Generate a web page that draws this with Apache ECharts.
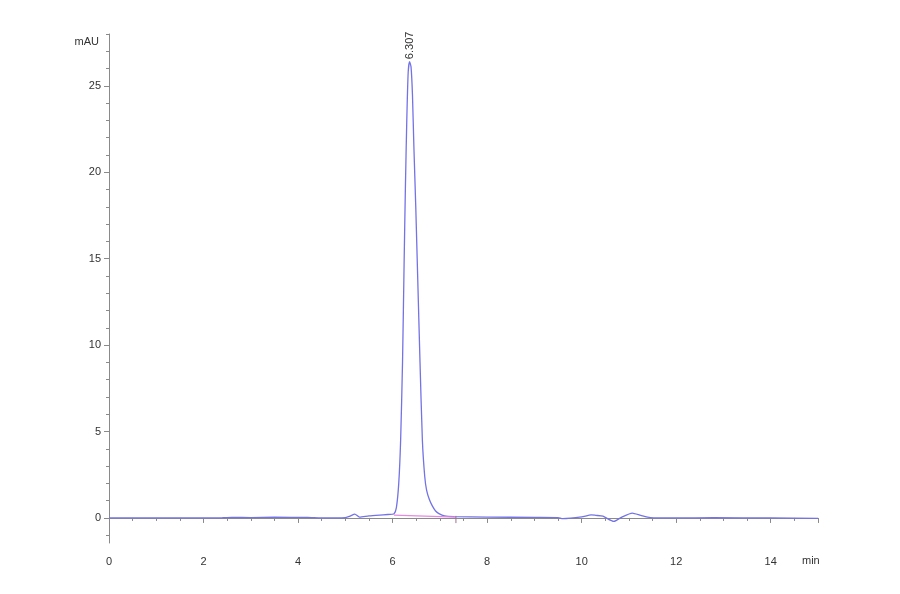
<!DOCTYPE html>
<html>
<head>
<meta charset="utf-8">
<script src="https://cdn.jsdelivr.net/npm/echarts@6/dist/echarts.min.js"></script>
<style>
  html, body { margin: 0; padding: 0; background: #fff; }
  #chart { width: 900px; height: 594px; }
</style>
</head>
<body>
<div id="chart"></div>
<script>
// chromatogram trace (min, mAU)
var signalTime = [0, 1.0, 2.4, 2.6, 3.0, 3.5, 4.2, 4.5, 5.0, 5.1, 5.2, 5.3, 5.5, 5.8, 6.0,
  6.03, 6.08, 6.13, 6.17, 6.21, 6.245, 6.27, 6.30, 6.33, 6.36, 6.39, 6.42, 6.45, 6.49,
  6.53, 6.58, 6.63, 6.68, 6.72, 6.78, 6.84, 6.91, 6.98, 7.1, 7.3, 8.0, 9.0, 9.5, 9.6,
  10.0, 10.2, 10.3, 10.45, 10.68, 10.85, 11.07, 11.25, 11.45, 12.0, 12.8, 14.0, 15.0];
var signalAbs = [0, 0, 0.01, 0.03, 0.02, 0.04, 0.03, 0.0, 0.02, 0.1, 0.22, 0.05, 0.12, 0.18, 0.22,
  0.23, 0.6, 2.0, 4.5, 9.0, 15.0, 19.0, 23.0, 25.8, 26.4, 26.1, 24.5, 21.5, 18.0,
  14.0, 9.0, 4.5, 2.4, 1.6, 1.05, 0.7, 0.4, 0.25, 0.12, 0.08, 0.05, 0.03, 0.02, -0.04,
  0.06, 0.18, 0.15, 0.1, -0.2, 0.05, 0.28, 0.15, 0.02, 0.0, 0.01, 0.0, -0.02];

// integration baseline under the peak
var baseTime = [6.03, 7.34];
var baseAbs = [0.16, 0.05];
var baseEndTime = [7.34, 7.34];
var baseEndAbs = [0.12, -0.3];

var peakLabel = "6.307";
var peakTime = 6.36, peakHeight = 26.4;

var yLabels = [0, 5, 10, 15, 20, 25];
var yMinor = [];
for (var v = -1; v <= 28; v++) yMinor.push(v);

function zip(a, b) { return a.map(function (x, i) { return [x, b[i]]; }); }

var axisGrey = "#8a8a8a";
var txt = { color: "#333", fontSize: 11, fontFamily: "Liberation Sans, Arial, sans-serif" };

var chart = echarts.init(document.getElementById("chart"));
chart.setOption({
  animation: false,
  backgroundColor: "#fff",
  grid: { left: 109, right: 82, top: 34, bottom: 51 },
  xAxis: {
    type: "value", min: 0, max: 15, interval: 2,
    name: "min", nameLocation: "end", nameGap: -16,
    nameTextStyle: Object.assign({}, txt, { verticalAlign: "top", padding: [38, 0, 0, 0] }),
    axisLine: { lineStyle: { color: axisGrey } },
    axisTick: { length: 5, lineStyle: { color: axisGrey } },
    minorTick: { show: true, splitNumber: 4, length: 3, lineStyle: { color: axisGrey } },
    axisLabel: Object.assign({ margin: 13, showMaxLabel: false }, txt),
    splitLine: { show: false }
  },
  yAxis: [{
    type: "value", min: -1.45, max: 28,
    name: "mAU", nameLocation: "end", nameGap: -2,
    nameTextStyle: Object.assign({}, txt, { align: "right", verticalAlign: "top", padding: [0, 10, 0, 0] }),
    axisLine: { show: true, lineStyle: { color: axisGrey } },
    axisTick: { show: true, length: 5, customValues: yLabels, lineStyle: { color: axisGrey } },
    axisLabel: Object.assign({ margin: 8, customValues: yLabels }, txt),
    splitLine: { show: false }
  }, {
    type: "value", min: -1.45, max: 28, position: "left",
    axisLine: { show: false },
    axisTick: { show: true, length: 3, customValues: yMinor, lineStyle: { color: axisGrey } },
    axisLabel: { show: false },
    splitLine: { show: false }
  }],
  series: [{
    type: "line", data: zip(signalTime, signalAbs),
    symbol: "none", smooth: 0.2,
    lineStyle: { color: "#7373e6", width: 1.3 },
    markPoint: {
      symbol: "circle", symbolSize: 1,
      itemStyle: { color: "transparent" },
      data: [{ coord: [peakTime, peakHeight] }],
      label: Object.assign({
        show: true, formatter: peakLabel, position: "top", distance: 2,
        rotate: 90, align: "left", verticalAlign: "middle"
      }, txt, { fontSize: 11 })
    }
  }, {
    type: "line", data: zip(baseTime, baseAbs),
    symbol: "none", lineStyle: { color: "#e48ae0", width: 1.2 }
  }, {
    type: "line", data: zip(baseEndTime, baseEndAbs),
    symbol: "none", lineStyle: { color: "#a07090", width: 1 }
  }]
});
</script>
</body>
</html>
